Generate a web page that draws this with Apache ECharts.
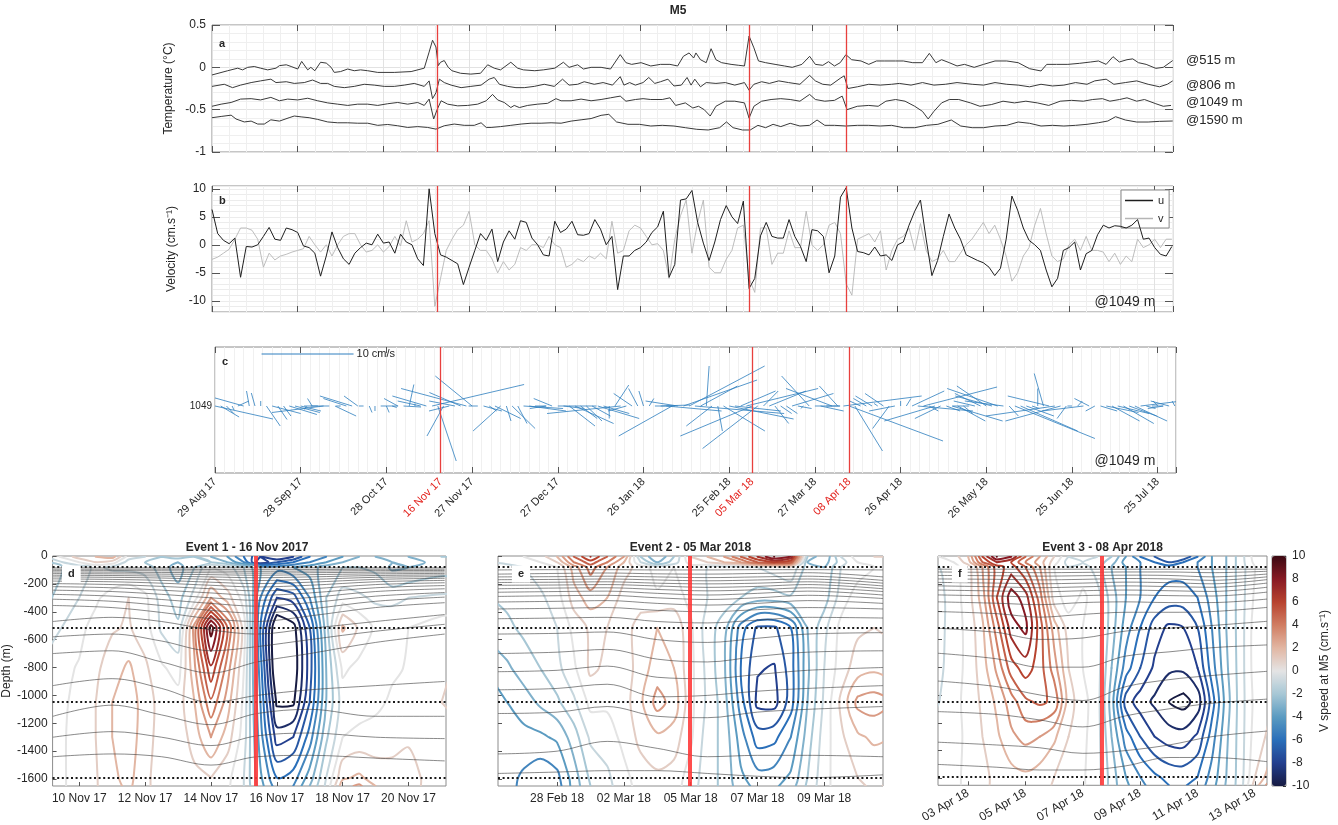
<!DOCTYPE html>
<html>
<head>
<meta charset="utf-8">
<title>M5</title>
<script src="https://cdn.jsdelivr.net/npm/echarts@6/dist/echarts.min.js"></script>
<style>
  html, body { margin: 0; padding: 0; background: #fff; }
  #chart { width: 1338px; height: 825px; }
</style>
</head>
<body>
<div id="chart"></div>
<script>
// ---- time axis of panels a-c: days since 29 Aug 2017 ----
var tickDays = [0, 30, 60, 90, 120, 150, 180, 210, 240, 270, 300, 330];
var tickLabels = ['29 Aug 17', '28 Sep 17', '28 Oct 17', '27 Nov 17', '27 Dec 17', '26 Jan 18',
  '25 Feb 18', '27 Mar 18', '26 Apr 18', '26 May 18', '25 Jun 18', '25 Jul 18'];
var eventDays = [79, 188, 222];
var eventLabels = ['16 Nov 17', '05 Mar 18', '08 Apr 18'];

// ---- panel a: temperature anomalies [day, degC] ----
var temp515 = [[0,-0.09],[5.5,-0.04],[9,-0.01],[10.7,-0.03],[12.5,0],[14.8,0.01],[17,-0.01],[19.5,-0.03],[22.4,-0.01],[23.6,0.02],[26,0.03],[27.7,0.01],[30,-0.02],[31.4,0.07],[33.5,-0.03],[34.6,0],[36,-0.04],[38,0.06],[40,0.05],[41.7,0],[42.8,-0.06],[45,-0.05],[47.5,-0.02],[49.8,-0.04],[52,-0.03],[54.5,-0.04],[58,-0.06],[63.8,-0.06],[69.7,-0.05],[74.3,-0.01],[76,0.18],[77.2,0.32],[78.4,0.24],[79.2,0.02],[80,0.06],[81.3,0.08],[82.7,0],[84,-0.04],[87,-0.07],[90.6,-0.08],[94,-0.07],[96.5,0.03],[98.8,-0.01],[101,-0.03],[104.6,0.06],[107,-0.01],[109,-0.03],[113,-0.04],[116,-0.03],[120,-0.01],[123,0.06],[125,0],[128,0.03],[130,-0.02],[132.7,0],[136.2,0],[139.5,-0.02],[142.9,0.15],[144.9,0.055],[146.9,0.035],[150.2,0.055],[153.6,0.016],[157,0.035],[160.3,0.035],[163,0.016],[165,0.13],[167,0.17],[168.6,0.11],[169.4,0.17],[171,0.09],[173,0.055],[174.7,0.22],[176.4,0.09],[178.4,0.055],[181.7,0.035],[184.4,0.024],[186.4,0.016],[188,0.37],[189.7,0.23],[191.3,0.075],[193.8,0.055],[197.1,0.035],[200.4,0.016],[203.1,0],[206.5,0.035],[209.2,0.13],[211.2,0.035],[213.8,0.024],[215.8,0.067],[217.9,0.016],[219.9,0.055],[221.9,0.15],[223.9,0.09],[227.2,0.075],[229.9,0.035],[232.6,0.075],[235.3,0.075],[239.3,0.075],[242,0.075],[245.3,0.055],[248.7,0.055],[251.1,0.165],[253.4,0.055],[255.4,0.09],[258.1,0.055],[260.8,0.016],[263.4,0.035],[266.8,0],[270.1,0.035],[274.1,0.075],[278.2,0.075],[282.2,0.055],[286.2,-0.016],[290.2,-0.043],[292.2,0.035],[295.6,0.035],[299.6,0.035],[303.6,0.047],[307.6,0.063],[310.3,0.075],[313,0.035],[315.4,0.126],[317.6,0.063],[320.3,0.09],[322.3,0.1],[324.3,0.055],[327,0.035],[330.4,-0.012],[333,0],[336.3,0.08]];
var temp806 = [[0,-0.225],[4.3,-0.2],[7.2,-0.24],[10,-0.21],[13.7,-0.18],[17,-0.16],[20.6,-0.14],[22.4,-0.18],[26,-0.17],[28.8,-0.19],[32.3,-0.18],[35.2,-0.15],[38,-0.19],[40.5,-0.19],[42.8,-0.225],[46.3,-0.24],[49.8,-0.225],[53.3,-0.2],[56.8,-0.21],[60.3,-0.225],[63.8,-0.225],[67.3,-0.21],[70.8,-0.19],[74.3,-0.225],[76,-0.16],[77.2,-0.37],[78.4,-0.3],[79.6,-0.14],[81.3,-0.18],[83.7,-0.21],[87.2,-0.24],[90.6,-0.225],[94.2,-0.21],[97,-0.14],[98.8,-0.12],[100.6,-0.2],[103.5,-0.225],[106.4,-0.24],[109.3,-0.24],[112.8,-0.225],[116.3,-0.2],[119.8,-0.225],[122.7,-0.14],[125,-0.21],[128,-0.2],[130.3,-0.17],[133.8,-0.2],[136.9,-0.18],[140.2,-0.21],[142.9,-0.11],[144.2,-0.21],[146.2,-0.18],[148.2,-0.21],[150.9,-0.18],[152.9,-0.12],[155,-0.19],[157,-0.17],[159.6,-0.14],[161.7,-0.22],[164.3,-0.21],[166.3,-0.12],[167.7,-0.21],[169,-0.14],[171,-0.23],[173,-0.18],[176.4,-0.19],[179.7,-0.18],[183,-0.21],[186.4,-0.18],[188,-0.27],[189.7,-0.2],[192.4,-0.17],[195.1,-0.19],[198.4,-0.16],[201.8,-0.18],[205.8,-0.2],[209.2,-0.095],[211.2,-0.16],[213.8,-0.2],[216.6,-0.21],[219.9,-0.13],[221.3,-0.1],[222.6,-0.25],[225.9,-0.23],[229.9,-0.2],[233.9,-0.21],[237.9,-0.2],[240.6,-0.19],[244.7,-0.21],[248.7,-0.18],[252.7,-0.21],[256.7,-0.2],[260.8,-0.18],[266.1,-0.2],[270.1,-0.21],[274.1,-0.18],[278.2,-0.2],[282.2,-0.21],[286.2,-0.23],[290.2,-0.2],[294.2,-0.22],[298.2,-0.21],[302.3,-0.18],[306.3,-0.2],[309,-0.16],[313,-0.14],[315.7,-0.2],[319.7,-0.18],[323.7,-0.16],[327.7,-0.2],[331.7,-0.23],[334.4,-0.2],[336.3,-0.16]];
var temp1049 = [[0,-0.46],[3.2,-0.435],[6.7,-0.415],[10,-0.375],[13.7,-0.37],[17,-0.385],[20.6,-0.355],[23.6,-0.395],[26.5,-0.375],[30,-0.385],[33.5,-0.365],[37,-0.395],[40.5,-0.42],[44,-0.435],[47.5,-0.45],[51,-0.435],[54.5,-0.435],[58,-0.45],[61.5,-0.43],[65,-0.415],[68.5,-0.435],[72,-0.415],[74.3,-0.45],[76,-0.375],[77.6,-0.61],[78.8,-0.5],[80.2,-0.395],[82.5,-0.435],[86,-0.455],[89.5,-0.45],[93,-0.435],[96,-0.395],[98.2,-0.32],[100,-0.385],[102.3,-0.415],[104.6,-0.475],[105.8,-0.45],[107.6,-0.475],[110.5,-0.45],[114,-0.435],[117.5,-0.425],[120.4,-0.37],[122.2,-0.395],[125.7,-0.395],[129.2,-0.375],[132.7,-0.395],[136.2,-0.38],[139.5,-0.36],[142.9,-0.34],[144.9,-0.4],[148.2,-0.38],[150.9,-0.37],[153.6,-0.38],[157.6,-0.38],[160.3,-0.36],[162.3,-0.45],[165.7,-0.42],[168.3,-0.48],[170.3,-0.46],[172.3,-0.5],[174.4,-0.575],[176.4,-0.46],[179.7,-0.4],[183,-0.4],[186.4,-0.42],[188,-0.6],[189.7,-0.46],[192.4,-0.4],[195.7,-0.38],[199.1,-0.37],[202.4,-0.38],[205.8,-0.4],[209.2,-0.32],[211.2,-0.38],[214.5,-0.4],[217.9,-0.39],[220.6,-0.34],[222.3,-0.5],[225.9,-0.46],[229.9,-0.45],[233.2,-0.46],[235.9,-0.4],[239.3,-0.38],[242.6,-0.4],[246,-0.46],[248.7,-0.52],[250.7,-0.61],[252.7,-0.52],[255.4,-0.42],[258.1,-0.38],[261.4,-0.38],[265.5,-0.42],[268.8,-0.46],[272.8,-0.44],[276.9,-0.4],[280.9,-0.42],[284.9,-0.4],[288.9,-0.42],[292.9,-0.45],[296.9,-0.4],[300.9,-0.39],[305,-0.4],[308.3,-0.38],[311.7,-0.37],[314.3,-0.4],[317.7,-0.38],[320.3,-0.36],[323.7,-0.4],[326.4,-0.38],[330.4,-0.43],[333,-0.46],[335.7,-0.45]];
var temp1590 = [[0,-0.595],[3.2,-0.58],[6.7,-0.565],[8.4,-0.61],[11.3,-0.645],[13.7,-0.635],[16,-0.67],[18.3,-0.67],[20.6,-0.62],[23.6,-0.635],[27,-0.595],[28.8,-0.575],[31.2,-0.585],[34,-0.595],[37,-0.615],[40.5,-0.645],[44,-0.655],[47.5,-0.655],[51,-0.66],[54.5,-0.66],[58,-0.685],[61.5,-0.675],[65,-0.69],[68.5,-0.71],[72,-0.7],[75.5,-0.71],[78.4,-0.73],[81.3,-0.69],[84.8,-0.67],[88.3,-0.685],[91.8,-0.685],[94.2,-0.655],[96,-0.71],[97.7,-0.71],[101,-0.7],[104.6,-0.685],[108.2,-0.67],[111.7,-0.66],[115.2,-0.66],[118.7,-0.655],[122.2,-0.66],[125.7,-0.635],[129.2,-0.62],[132.7,-0.605],[136.2,-0.567],[138.9,-0.555],[141.6,-0.645],[145.6,-0.673],[149.6,-0.673],[153.6,-0.693],[157.6,-0.685],[161.7,-0.693],[165.7,-0.713],[169.7,-0.732],[173.7,-0.74],[177.7,-0.713],[180.1,-0.645],[182.4,-0.713],[185.7,-0.74],[188.4,-0.74],[191.1,-0.685],[193.8,-0.713],[196.4,-0.673],[199.1,-0.7],[202.4,-0.661],[205.8,-0.693],[209.2,-0.685],[211.8,-0.622],[214.5,-0.685],[217.9,-0.685],[221.9,-0.693],[225.9,-0.685],[229.9,-0.685],[233.9,-0.693],[237.9,-0.685],[242,-0.713],[246,-0.713],[250.1,-0.685],[254.1,-0.673],[258.8,-0.622],[262.1,-0.693],[266.1,-0.713],[270.1,-0.713],[274.1,-0.693],[278.2,-0.685],[282.2,-0.646],[286.2,-0.661],[290.2,-0.693],[294.2,-0.685],[298.2,-0.693],[302.3,-0.685],[306.3,-0.673],[310.3,-0.654],[313.6,-0.634],[316.3,-0.583],[319.7,-0.622],[323.7,-0.646],[327.7,-0.646],[331.7,-0.638],[336.3,-0.634]];
var tempNames = ['@515 m', '@806 m', '@1049 m', '@1590 m'];

// ---- panels b & c: velocity at 1049 m, one value every 2 days from day 0 (cm/s) ----
var velStep = 2;
var uVel = [6.3,2,0.8,0.2,1.2,-5.8,-0.3,-0.4,0,1.5,
  3.1,1,0.8,3,2.7,2.2,-0.2,-0.5,-1.5,-5.6,
  -2,2.3,-0.5,-2.5,-3.5,-1.5,-0.5,0.3,0,1.9,
  0.3,0.5,-1.5,1.9,0.5,0,-2.5,-3.7,10,2,
  -1.8,-2.2,-2.8,-3.4,-7.1,-4,-1,2,0.8,2.8,
  -3,0.5,2.5,1,4.3,4,1.2,0,-1.8,-2,
  4.2,2.2,2.8,4.2,1.8,1.7,2,4.5,2.8,0,
  1.5,-8,-2,-2,-1,-0.5,0.5,2.2,3.2,6,
  -5.8,-3.5,8,8.2,9.7,4,0.3,-2.8,0.5,4.5,
  7,5,3.8,7.8,-7.8,-6,1.6,4,1.5,1.2,
  1.2,4.5,1.5,-0.3,-3,2.7,2.5,1.5,-5,-2,
  8.5,10.2,3,-1.2,-1.4,-1.8,-0.4,-2,-1.8,-2.8,
  0,0.5,3.5,6,8,1,-5.5,-2.8,1.5,5.5,
  3,1,-1.8,-2.3,-2.8,-3.2,-4,-5.5,-4.2,1,
  8.7,6.2,3,0.8,0,-1,-4.5,-7.5,-6,-1,
  -0.5,0.5,-4.5,-1.6,-1,1.8,3.5,3,3.4,3.3,
  3,3.5,4.5,1,1.2,-0.5,-1.7,-2,-0.3];
var vVel = [-2.6,-2.2,-1.5,-0.8,1,3,3,2.6,1,-4,
  -1.5,-2.7,-2,-1.7,-1.3,-1,-0.7,1.5,0,-1.3,
  0,-2,0,1.5,2,2,0,-1.3,-1,0,
  -1.3,-0.3,1.5,-0.2,4.3,0.5,1,2,4.3,-11,
  -6,-1,1,2.7,3.5,6,0,-1,-1,-2.5,
  -5,-3,-4.5,-3.5,-0.5,-1,0,0,-0.5,1.5,
  0,-0.5,-4,-3.5,-2.5,-3,-2,-2.5,-1.5,-2.5,
  4.2,-1.5,-1,2.5,3.5,3,1.5,0,0.2,-1,
  -6,1,5.2,8,-1.5,4,8,-4,-5,-5,
  -2.6,-1,3,3.5,-6,-8.5,3,3,-3.5,-1.5,
  -1.5,2.5,-0.5,-0.5,6,0,-1,0,3.5,4,
  2,-7,-9,1,1.5,2,0.5,2.5,-4.5,-1,
  1,1.5,3,-1,3.8,-1,-3,-2.5,-1,-3,
  -3,-1.5,0,1,2.5,4,2,3.5,1,-2,
  -6.5,-5,-2,-0.5,3.5,6.5,2,-2,-3,-2.5,
  0,1,-1,1.5,-1,-1,-1.3,-3,-1.5,-3.5,
  -2,-3,1,-0.5,0,1,-0.5,1,1];
var stickRef = { day: 16.3, level: 10.4, speed: 10 };

// ---- panels d-f: V speed profiles (cm/s), one profile per time, top to bottom ----
var depthRows = [-5, -45, -80, -300, -515, -806, -1049, -1300, -1590, -1650];
var instrDepths = [-80, -515, -1049, -1590];
var depthTicks = [0, -200, -400, -600, -800, -1000, -1200, -1400, -1600];
var vLevels = [-10,-9,-8,-7,-6,-5,-4,-3,-2,-1,0,1,2,3,4,5,6,7,8,9,10];

// Event 1, days from 10 Nov 2017
var timesD = [-1, 0, 0.5, 1, 1.5, 2, 2.5, 3, 3.5, 4, 4.5, 5, 5.5, 6, 6.5, 7, 7.5, 8, 8.5, 9, 9.5, 10, 11, 11.5];
var speedD = [
  [-1,-2,-2.5,-2.2,-1.6,-0.6,-0.4,-0.3,-0.3,-0.3],
  [1.5,0,-1.5,-1,-0.3,0.1,0.2,0.2,0.2,0.2],
  [2,1,-0.8,-0.2,0.4,0.8,1.0,1.0,0.9,0.9],
  [2.5,0.5,-1.2,0.5,0.9,1.5,2.0,2.0,1.8,1.7],
  [-0.5,-1.5,-1.3,1.0,1.1,2.2,2.6,2.5,2.3,2.2],
  [-1,-2,-1.5,0.3,0.5,1.2,1.5,1.5,1.3,1.3],
  [-2,-2.5,-2.5,-1.5,-1.2,0.2,0.6,0.5,0.4,0.4],
  [-1.5,-3,-3.5,-2.5,-1.8,-0.5,0.5,0.3,0.2,0.2],
  [-2,-2.5,-2,-0.5,3.5,2.8,2.0,1.5,0.7,0.6],
  [-3,-2,0,3,9.6,6.8,4.8,3.0,1.0,0.8],
  [-4,-3,-0.5,1.5,5,3.5,2.5,1.5,0.3,0.2],
  [-6,-5,-2,-0.5,0.5,0,-0.3,-0.5,-1.0,-1.0],
  [-8,-9,-4,-5,-6,-5.5,-5,-4.5,-3.8,-3.6],
  [-9,-7,-4.5,-8,-11.5,-11.5,-10.2,-8.5,-6,-5.5],
  [-8,-6,-4,-7.5,-10.5,-10.8,-10.2,-8,-5.5,-5],
  [-6,-5,-3.5,-5,-7,-7.5,-7,-5.5,-3.5,-3],
  [-5,-4,-2.5,-2,-2.5,-3,-3,-2.2,-1,-0.8],
  [-4,-3,-2,-0.5,2.2,0.2,-0.5,0,1.8,2.6],
  [-3,-2.5,-2,-0.8,0.8,-0.3,-0.5,0.3,2.2,3.2],
  [-3,-2.5,-2.2,-1.2,-0.2,-0.4,-0.3,0.5,1.5,2.0],
  [-4,-3,-3.2,-1.3,-0.2,-0.2,0.2,0.8,1.2,1.2],
  [-3,-3.5,-3,-1.0,0,0.1,0.3,0.9,1.3,1.3],
  [-2,-2.5,-2.5,-0.8,0.5,0.8,1.0,0.8,0.5,0.5],
  [-2,-2.5,-2.6,-0.8,0.6,1.1,1.2,0.8,0.5,0.5]
];
// Event 2, days from 28 Feb 2018
var timesE = [-2, -1.5, -1, -0.5, 0, 0.5, 1, 1.5, 2, 2.5, 3, 3.5, 4, 4.5, 5, 5.5, 6, 6.5, 7, 7.5, 8, 8.5, 9, 9.5, 10];
var speedE = [
  [-0.5,-1,-1.5,-2,-2.5,-3.8,-4.6,-4.5,-4.5,-4.5],
  [-0.3,-0.8,-1.3,-1.8,-2.2,-3.2,-4.0,-4.3,-4.6,-4.6],
  [0,-0.5,-1.0,-1.5,-1.8,-2.5,-3.5,-4.3,-5.2,-5.3],
  [0.5,0,-0.5,-1.2,-1.5,-2.0,-2.8,-4.2,-5.7,-5.8],
  [2,1,0,-0.5,-1.0,-1.3,-2.2,-3.8,-5.3,-5.5],
  [5,4,2.5,1.5,0.3,-0.2,-1.2,-2.5,-3.5,-3.6],
  [7,5.5,4.5,2.5,1.2,1.2,0.3,-0.8,-1.8,-2.0],
  [5,4,3,2,1.0,0.8,0.2,-0.5,-1.2,-1.3],
  [3,2,1.5,0.5,0.5,0.4,0.5,0.3,-0.3,-0.4],
  [-2,-1,0.5,0.5,1.5,1.5,1.8,1.3,0.5,0.4],
  [-4,-3,-0.5,0.2,2.0,2.5,3.4,1.8,0.8,0.6],
  [-2,-1.5,0,0.5,1.8,2.0,2.6,1.5,0.6,0.5],
  [1,0.5,-0.5,-0.3,0.2,0.3,0.3,0.2,-0.5,-0.6],
  [2,1,-1,-1.0,-1.5,-1.3,-1.2,-1.5,-1.5,-1.5],
  [3,2,-1.5,-1.5,-2.5,-2.8,-2.5,-2.3,-2.3,-2.3],
  [5,3,-1.5,-2.0,-5.5,-6,-5.5,-4.5,-3.8,-3.6],
  [7,5,-1.0,-2.5,-7.2,-7.9,-8.3,-6.5,-4.6,-4.3],
  [9,6,-0.5,-2.5,-7.2,-8.1,-8.4,-6.3,-4.5,-4.2],
  [8,5,0,-2.2,-6,-6.5,-6.5,-5,-3.8,-3.5],
  [-2,-3,-2.5,-2.5,-3.0,-3.2,-3.0,-2.5,-2,-1.8],
  [-4,-3.5,-3,-2.5,-1.3,-1.0,-0.8,-0.5,-0.3,-0.3],
  [-1,-1.5,-1,-0.5,0.3,0.5,1.2,0.8,0.5,0.5],
  [0.5,0,-0.5,0.5,0.8,1.5,3.3,1.8,1.0,0.9],
  [1,0.5,0,0.5,1.0,1.8,3.5,2.2,1.2,1.1],
  [1,0.5,0,0.5,0.8,1.5,3.0,2.0,1.0,0.9]
];
// Event 3, days from 03 Apr 2018
var timesF = [-1.5, -1, -0.5, 0, 0.5, 1, 1.5, 2, 2.5, 3, 3.5, 4, 4.5, 5, 5.5, 6, 6.5, 7, 7.5, 8, 8.5, 9, 9.5, 10, 10.5];
var speedF = [
  [0,-0.5,-1,-1.5,-1.5,-1.5,-1.2,-1,-0.8,-0.8],
  [0,-0.5,-1,-1.3,-1.3,-1.2,-1.0,-0.8,-0.6,-0.6],
  [0.5,0,-0.3,-0.5,-0.5,-0.5,-0.3,-0.3,-0.2,-0.2],
  [2,1.5,0.5,0.5,0.3,0.3,0.3,0.2,0.2,0.2],
  [6,5,3,2.5,1.8,1.5,1.2,1.0,0.8,0.8],
  [9,7,5.5,6.0,4.5,3.2,2.2,1.8,1.2,1.2],
  [8,6,6.5,8.6,7.5,5.5,3.5,2.8,1.6,1.5],
  [5,4,5,7.5,8.3,6.5,4.8,3.3,1.8,1.7],
  [3,2.5,3,4.5,5.5,5.5,5.2,3.0,1.5,1.4],
  [1,0.5,0,0.5,2.5,3.5,4.8,2.2,1.0,0.9],
  [-1,-1.5,-1,-0.5,0.5,1.0,1.5,1.0,0.5,0.5],
  [-0.5,-1,-0.5,0.2,0,0,0.3,0.2,0.1,0.1],
  [-1,-1.5,-1.5,-0.5,-0.5,-0.5,-0.5,-0.5,-0.5,-0.5],
  [-2,-2.5,-3,-2.5,-2.5,-3,-3.5,-3.0,-2.5,-2.5],
  [-4,-4.5,-4,-4,-4.5,-5.5,-7.5,-5.5,-4.0,-3.8],
  [-6,-5,-5,-5,-6,-7,-8.5,-7,-5,-4.7],
  [-7,-6,-5.5,-6,-7.5,-8.2,-9.2,-8.0,-5.8,-5.5],
  [-8,-7,-5.5,-6.5,-8.2,-8.8,-10.0,-8.5,-6.3,-6.0],
  [-8,-6,-5.5,-6.5,-8.0,-8.8,-10.4,-8.6,-6.4,-6.1],
  [-6,-5,-5,-6,-7.0,-8.0,-9.6,-7.8,-6.0,-5.7],
  [-4,-4,-4,-4.5,-5.0,-5.5,-6.5,-5.5,-4.6,-4.4],
  [-3,-3,-3,-3,-3,-3.2,-3.5,-3.2,-3,-2.9],
  [-1.5,-1.5,-1.5,-1.5,-1.5,-1.5,-1.5,-1.5,-1.5,-1.5],
  [0.5,0.3,0,0.2,0.5,0.5,0.3,0.5,1.0,1.5],
  [1,0.8,0.5,0.8,1,1,0.8,1.2,2.5,3.5]
];

// ---- isotherm depths (m) at a few times per event ----
var isoTimesD = [-0.8, 1, 2.5, 4, 5.4, 7, 9, 11.1];
var isoD = [
  [-85,-85,-85,-85,-85,-85,-85,-85],
  [-95,-95,-95,-97,-98,-97,-95,-95],
  [-105,-105,-106,-108,-110,-108,-105,-104],
  [-115,-116,-118,-120,-123,-120,-116,-114],
  [-126,-128,-130,-134,-138,-134,-128,-125],
  [-138,-140,-144,-150,-156,-150,-140,-136],
  [-150,-153,-158,-168,-176,-168,-153,-148],
  [-164,-168,-175,-188,-198,-188,-168,-160],
  [-180,-185,-195,-210,-222,-210,-185,-175],
  [-198,-205,-218,-235,-250,-236,-205,-192],
  [-220,-228,-245,-265,-282,-265,-228,-212],
  [-245,-255,-275,-300,-318,-298,-255,-235],
  [-275,-288,-312,-340,-360,-335,-288,-262],
  [-310,-325,-355,-390,-410,-380,-325,-295],
  [-355,-370,-405,-450,-470,-430,-370,-335],
  [-470,-440,-470,-530,-560,-520,-470,-420],
  [-580,-560,-610,-680,-650,-600,-540,-490],
  [-700,-680,-760,-840,-760,-700,-620,-560],
  [-930,-880,-950,-1050,-1000,-960,-930,-900],
  [-1150,-1070,-1140,-1210,-1130,-1100,-1150,-1150],
  [-1300,-1260,-1300,-1360,-1290,-1270,-1300,-1310],
  [-1440,-1420,-1440,-1500,-1440,-1430,-1450,-1470]
];
var isoTimesE = [-1.77, 0, 1.5, 3, 4.5, 6, 7.5, 9.76];
var isoE = [
  [-100,-98,-98,-100,-100,-98,-98,-100],
  [-130,-125,-122,-128,-130,-125,-120,-150],
  [-150,-148,-145,-150,-155,-150,-145,-175],
  [-170,-168,-165,-172,-178,-172,-165,-195],
  [-190,-188,-185,-195,-200,-195,-185,-215],
  [-210,-208,-205,-215,-225,-218,-205,-235],
  [-235,-230,-228,-240,-250,-242,-228,-255],
  [-260,-255,-252,-268,-280,-268,-252,-280],
  [-290,-285,-282,-300,-312,-300,-282,-305],
  [-330,-325,-320,-340,-352,-340,-320,-340],
  [-380,-375,-370,-390,-400,-385,-370,-380],
  [-450,-445,-440,-470,-480,-460,-440,-445],
  [-560,-555,-545,-600,-620,-590,-560,-550],
  [-700,-690,-670,-740,-760,-720,-690,-680],
  [-830,-820,-790,-870,-880,-850,-820,-800],
  [-960,-950,-920,-1010,-1000,-970,-950,-930],
  [-1130,-1120,-1080,-1150,-1160,-1120,-1100,-1080],
  [-1420,-1400,-1330,-1380,-1440,-1430,-1430,-1440],
  [-1560,-1550,-1540,-1540,-1560,-1580,-1590,-1570]
];
var isoTimesF = [-1.05, 1, 2.5, 4, 5.5, 7, 8.5, 10.42];
var isoF = [
  [-95,-95,-95,-95,-95,-95,-95,-95],
  [-115,-118,-120,-118,-115,-115,-120,-110],
  [-140,-142,-145,-142,-138,-140,-150,-130],
  [-165,-168,-172,-168,-162,-165,-175,-150],
  [-190,-195,-200,-195,-188,-192,-200,-170],
  [-215,-222,-228,-222,-215,-220,-225,-195],
  [-245,-252,-258,-250,-245,-250,-255,-225],
  [-280,-288,-295,-285,-280,-285,-288,-260],
  [-330,-340,-350,-335,-330,-335,-335,-310],
  [-400,-415,-440,-420,-405,-405,-400,-370],
  [-520,-550,-600,-590,-540,-520,-500,-470],
  [-700,-740,-800,-800,-720,-690,-660,-640],
  [-900,-940,-1000,-1040,-940,-890,-860,-830],
  [-1120,-1140,-1180,-1230,-1150,-1100,-1060,-1030],
  [-1340,-1360,-1380,-1420,-1400,-1360,-1300,-1260],
  [-1500,-1520,-1540,-1540,-1510,-1450,-1450,-1480]
];

// ---- event panel axes ----
var eventPanels = [
  { title: 'Event 1 - 16 Nov 2017', tag: 'd', min: -0.81, max: 11.14, red: 5.37,
    ticks: [0, 2, 4, 6, 8, 10], labels: ['10 Nov 17','12 Nov 17','14 Nov 17','16 Nov 17','18 Nov 17','20 Nov 17'],
    times: timesD, speed: speedD, isoTimes: isoTimesD, iso: isoD, rotate: 0 },
  { title: 'Event 2 - 05 Mar 2018', tag: 'e', min: -1.77, max: 9.76, red: 3.98,
    ticks: [0, 2, 4, 6, 8], labels: ['28 Feb 18','02 Mar 18','05 Mar 18','07 Mar 18','09 Mar 18'],
    times: timesE, speed: speedE, isoTimes: isoTimesE, iso: isoE, rotate: 0 },
  { title: 'Event 3 - 08 Apr 2018', tag: 'f', min: -1.05, max: 10.42, red: 4.67,
    ticks: [0, 2, 4, 6, 8, 10], labels: ['03 Apr 18','05 Apr 18','07 Apr 18','09 Apr 18','11 Apr 18','13 Apr 18'],
    times: timesF, speed: speedF, isoTimes: isoTimesF, iso: isoF, rotate: 30 }
];

var speedColors = ['#171b42', '#233f8e', '#2a6fb9', '#5b9bc1', '#a7c7d5', '#e4e4e4',
  '#e2b6a3', '#d07d62', '#b7432f', '#871a24', '#3b0912'];

var FONT = '"Liberation Sans", Arial, Helvetica, sans-serif';
var TXT = '#262626';
var BOX = '#8c8c8c';
var SPAN_DAYS = 336.4;
var DAYS_PER_CM = 3.22;

// marching squares on a rectilinear grid; cols[i][j] = value at xs[i], ys[j]
function contourSegments(xs, ys, cols, L) {
  var segs = [];
  for (var i = 0; i < xs.length - 1; i++) {
    for (var j = 0; j < ys.length - 1; j++) {
      var cx = [xs[i], xs[i + 1], xs[i + 1], xs[i]];
      var cy = [ys[j], ys[j], ys[j + 1], ys[j + 1]];
      var cv = [cols[i][j], cols[i + 1][j], cols[i + 1][j + 1], cols[i][j + 1]];
      var pts = [];
      for (var k = 0; k < 4; k++) {
        var k2 = (k + 1) % 4;
        var a = cv[k] - L, b = cv[k2] - L;
        if ((a >= 0) !== (b >= 0)) {
          var f = a / (a - b);
          pts.push([cx[k] + f * (cx[k2] - cx[k]), cy[k] + f * (cy[k2] - cy[k])]);
        }
      }
      if (pts.length >= 2) segs.push([pts[0], pts[1]]);
      if (pts.length === 4) segs.push([pts[2], pts[3]]);
    }
  }
  return segs;
}

// join the cell segments of one level into polylines
function chainSegments(segs) {
  var key = function (p) { return p[0].toFixed(5) + ',' + p[1].toFixed(3); };
  var ends = {};
  segs.forEach(function (s, i) {
    [key(s[0]), key(s[1])].forEach(function (k) { (ends[k] = ends[k] || []).push(i); });
  });
  var used = segs.map(function () { return false; });
  var lines = [];
  function extend(pts) {
    for (;;) {
      var last = pts[pts.length - 1], cand = ends[key(last)] || [], next = -1;
      for (var c = 0; c < cand.length; c++) { if (!used[cand[c]]) { next = cand[c]; break; } }
      if (next < 0) return;
      used[next] = true;
      var s = segs[next];
      pts.push(key(s[0]) === key(last) ? s[1] : s[0]);
    }
  }
  segs.forEach(function (s, i) {
    if (used[i]) return;
    used[i] = true;
    var pts = [s[0], s[1]];
    extend(pts);
    pts.reverse();
    extend(pts);
    lines.push(pts);
  });
  return lines;
}

function contourLines(xs, ys, cols, levels) {
  var out = [];
  levels.forEach(function (L) {
    chainSegments(contourSegments(xs, ys, cols, L)).forEach(function (pts) {
      out.push({ level: L, points: pts });
    });
  });
  return out;
}

function pickLabel(values, labels) {
  return function (v) {
    for (var i = 0; i < values.length; i++) {
      if (Math.abs(values[i] - v) < 1e-6) return labels[i];
    }
    return '';
  };
}

var tickStyle = { show: true, inside: true, length: 6, lineStyle: { color: '#555', width: 1 } };

function timeAxis(gridIndex, position, extra) {
  var ax = {
    type: 'value', gridIndex: gridIndex, position: position,
    min: 0, max: SPAN_DAYS, interval: 30,
    axisLine: { show: false, onZero: false },
    axisTick: tickStyle,
    axisLabel: { show: false },
    splitLine: { show: false }
  };
  for (var k in extra) ax[k] = extra[k];
  return ax;
}

var chart = echarts.init(document.getElementById('chart'));

var grids = [
  { left: 212, top: 25, width: 961, height: 127 },
  { left: 212, top: 186, width: 961, height: 126 },
  { left: 215, top: 347, width: 961, height: 126 },
  { left: 48, top: 556, width: 398, height: 230 },
  { left: 498, top: 556, width: 385, height: 230 },
  { left: 938, top: 556, width: 329, height: 230 },
  { left: 1272, top: 556, width: 14, height: 230 }
].map(function (g) {
  g.show = true; g.borderColor = BOX; g.borderWidth = 1; g.containLabel = false;
  return g;
});

var vGrid = { show: true, lineStyle: { color: '#e2e2e2', width: 1 } };
var vMinor = { show: true, lineStyle: { color: '#efefef', width: 1 } };

var xAxes = [
  timeAxis(0, 'bottom', { splitLine: vGrid, minorTick: { show: false, splitNumber: 5 }, minorSplitLine: vMinor }),
  timeAxis(0, 'top'),
  timeAxis(1, 'bottom', { splitLine: vGrid, minorTick: { show: false, splitNumber: 5 }, minorSplitLine: vMinor }),
  timeAxis(1, 'top'),
  timeAxis(2, 'bottom', {
    splitLine: { show: true, lineStyle: { color: '#ececec' } },
    minorTick: { show: false, splitNumber: 9 }, minorSplitLine: { show: true, lineStyle: { color: '#f0f0f0' } },
    axisLabel: { show: true, rotate: 45, fontSize: 11, color: TXT, margin: 7, fontFamily: FONT,
      formatter: pickLabel(tickDays, tickLabels) }
  }),
  timeAxis(2, 'top'),
  timeAxis(2, 'bottom', {
    axisTick: { show: false },
    axisLabel: { show: true, rotate: 45, fontSize: 11, color: '#e3211c', margin: 7, fontFamily: FONT,
      customValues: eventDays, formatter: pickLabel(eventDays, eventLabels) }
  })
];
eventPanels.forEach(function (p, i) {
  xAxes.push({
    type: 'value', gridIndex: 3 + i, position: 'bottom', min: p.min, max: p.max,
    axisLine: { show: false, onZero: false },
    axisTick: { show: true, inside: true, length: 4, customValues: p.ticks, lineStyle: { color: '#555' } },
    axisLabel: { show: true, customValues: p.ticks, formatter: pickLabel(p.ticks, p.labels),
      rotate: p.rotate, fontSize: 12, color: TXT, margin: 7, fontFamily: FONT },
    splitLine: { show: false }
  });
});
xAxes.push({ type: 'value', gridIndex: 6, min: 0, max: 1, show: false });

var yAxes = [
  { type: 'value', gridIndex: 0, position: 'left', min: -1, max: 0.5, interval: 0.5,
    axisLine: { show: false, onZero: false },
    axisTick: { show: true, inside: true, length: 8, lineStyle: { color: '#555' } },
    axisLabel: { fontSize: 12, color: TXT, margin: 6, fontFamily: FONT },
    splitLine: { show: true, lineStyle: { color: '#e2e2e2' } },
    minorTick: { show: false, splitNumber: 5 }, minorSplitLine: vMinor,
    name: 'Temperature (°C)', nameLocation: 'middle', nameGap: 27, nameRotate: 90,
    nameTextStyle: { fontSize: 12, color: TXT, fontFamily: FONT } },
  { type: 'value', gridIndex: 0, position: 'right', min: -1, max: 0.5, interval: 0.5,
    axisLine: { show: false, onZero: false }, axisLabel: { show: false }, splitLine: { show: false },
    axisTick: { show: true, inside: true, length: 8, lineStyle: { color: '#555' } } },
  { type: 'value', gridIndex: 1, position: 'left', min: -12, max: 10.5, interval: 1,
    axisLine: { show: false, onZero: false }, axisLabel: { show: false }, axisTick: { show: false },
    splitLine: { show: true, lineStyle: { color: '#ececec' } } },
  { type: 'value', gridIndex: 1, position: 'left', min: -12, max: 10.5,
    axisLine: { show: false, onZero: false },
    axisTick: { show: true, inside: true, length: 8, customValues: [-10, -5, 0, 5, 10], lineStyle: { color: '#555' } },
    axisLabel: { customValues: [-10, -5, 0, 5, 10], fontSize: 12, color: TXT, margin: 6, fontFamily: FONT },
    splitLine: { show: false },
    name: 'Velocity (cm.s⁻¹)', nameLocation: 'middle', nameGap: 24, nameRotate: 90,
    nameTextStyle: { fontSize: 12, color: TXT, fontFamily: FONT } },
  { type: 'value', gridIndex: 1, position: 'right', min: -12, max: 10.5,
    axisLine: { show: false, onZero: false }, axisLabel: { show: false }, splitLine: { show: false },
    axisTick: { show: true, inside: true, length: 8, customValues: [-10, -5, 0, 5, 10], lineStyle: { color: '#555' } } },
  { type: 'value', gridIndex: 2, position: 'left', min: -13.4, max: 11.8,
    axisLine: { show: false, onZero: false },
    axisTick: { show: false },
    axisLabel: { customValues: [0], formatter: function () { return '1049'; }, fontSize: 10, color: TXT, margin: 3, fontFamily: FONT },
    splitLine: { show: false } }
];
eventPanels.forEach(function (p, i) {
  yAxes.push({
    type: 'value', gridIndex: 3 + i, position: 'left', min: -1650, max: 0,
    axisLine: { show: false, onZero: false },
    axisTick: { show: true, inside: true, length: 4, customValues: depthTicks, lineStyle: { color: '#555' } },
    axisLabel: { show: i === 0, customValues: depthTicks, fontSize: 12, color: TXT, margin: 5, fontFamily: FONT,
      formatter: function (v) { return String(v); } },
    splitLine: { show: false },
    name: i === 0 ? 'Depth (m)' : '', nameLocation: 'middle', nameGap: 33, nameRotate: 90,
    nameTextStyle: { fontSize: 12, color: TXT, fontFamily: FONT }
  });
});
yAxes.push({
  type: 'value', gridIndex: 6, position: 'right', min: -10, max: 10, interval: 2,
  axisLine: { show: false, onZero: false },
  axisTick: { show: true, inside: true, length: 3, lineStyle: { color: '#333' } },
  axisLabel: { fontSize: 12, color: TXT, margin: 6, fontFamily: FONT },
  splitLine: { show: false },
  name: 'V speed at M5 (cm.s⁻¹)', nameLocation: 'middle', nameGap: 33, nameRotate: 90,
  nameTextStyle: { fontSize: 12, color: TXT, fontFamily: FONT }
});

var series = [];
var redLines = {
  silent: true, symbol: ['none', 'none'], label: { show: false }, animation: false,
  lineStyle: { color: '#e8403d', width: 1.3, type: 'solid' },
  data: eventDays.map(function (d) { return { xAxis: d }; })
};

// panel a
[temp515, temp806, temp1049, temp1590].forEach(function (arr, i) {
  series.push({
    name: tempNames[i], type: 'line', xAxisIndex: 0, yAxisIndex: 0, data: arr,
    symbol: 'none', lineStyle: { color: '#3a3a3a', width: 1 }, silent: true, z: 3,
    markLine: i === 0 ? redLines : undefined
  });
});
// panel b
var velDays = uVel.map(function (u, i) { return i * velStep; });
series.push({
  name: 'v', type: 'line', xAxisIndex: 2, yAxisIndex: 3, symbol: 'none',
  data: velDays.map(function (d, i) { return [d, vVel[i]]; }),
  itemStyle: { color: '#b5b5b5' },
  lineStyle: { color: '#b5b5b5', width: 0.9 }, silent: true, z: 3, markLine: redLines
});
series.push({
  name: 'u', type: 'line', xAxisIndex: 2, yAxisIndex: 3, symbol: 'none',
  data: velDays.map(function (d, i) { return [d, uVel[i]]; }),
  itemStyle: { color: '#1e1e1e' },
  lineStyle: { color: '#1e1e1e', width: 1 }, silent: true, z: 4
});
// panel c: stick plot
series.push({
  name: 'sticks', type: 'custom', xAxisIndex: 4, yAxisIndex: 5, clip: true, silent: true,
  data: velDays.map(function (d, i) { return [d, uVel[i], vVel[i]]; }),
  encode: { x: 0, y: 2 },
  renderItem: function (params, api) {
    var t = api.value(0), u = api.value(1), v = api.value(2);
    var p0 = api.coord([t, 0]);
    var p1 = api.coord([t + u * DAYS_PER_CM, v]);
    return { type: 'line', shape: { x1: p0[0], y1: p0[1], x2: p1[0], y2: p1[1] },
      style: { stroke: '#2f7fbf', lineWidth: 0.9, opacity: 0.9 } };
  },
  markLine: redLines, z: 3
});
series.push({
  name: 'ref', type: 'line', xAxisIndex: 4, yAxisIndex: 5, symbol: 'none', silent: true,
  data: [[stickRef.day, stickRef.level], [stickRef.day + stickRef.speed * DAYS_PER_CM, stickRef.level]],
  lineStyle: { color: '#2f7fbf', width: 1 },
  endLabel: { show: true, formatter: stickRef.speed + ' cm/s', fontSize: 11, color: TXT, distance: 3, fontFamily: FONT }
});

// panels d-f
var contourIdx = [];
eventPanels.forEach(function (p, i) {
  var xi = 7 + i, yi = 6 + i;
  var lines = contourLines(p.times, depthRows, p.speed, vLevels);
  contourIdx.push(series.length);
  series.push({
    name: 'speed ' + p.tag, type: 'custom', xAxisIndex: xi, yAxisIndex: yi, clip: true, silent: true,
    progressive: 0, z: 2,
    data: lines.map(function (ln, k) { return [ln.level, k]; }),
    dimensions: ['level', 'line'],
    encode: { x: -1, y: -1 },
    renderItem: function (params, api) {
      var ln = lines[api.value(1)];
      var pts = ln.points.map(function (q) { return api.coord(q); });
      return { type: 'polyline', shape: { points: pts, smooth: 0.3 },
        style: { stroke: api.visual('color'), fill: 'none', lineWidth: 2, lineCap: 'round', lineJoin: 'round' } };
    }
  });
  p.iso.forEach(function (line, k) {
    var s = {
      name: 'iso ' + p.tag + k, type: 'line', xAxisIndex: xi, yAxisIndex: yi, symbol: 'none',
      smooth: 0.35, silent: true, z: 4,
      data: p.isoTimes.map(function (t, m) { return [t, line[m]]; }),
      lineStyle: { color: '#3a3a3a', width: 0.6 }
    };
    if (k === 0) {
      s.markLine = {
        silent: true, symbol: ['none', 'none'], label: { show: false }, animation: false,
        data: instrDepths.map(function (d) {
          return { yAxis: d, lineStyle: { color: '#1a1a1a', width: 1.8, type: [2, 2.6] } };
        }).concat([{ xAxis: p.red, lineStyle: { color: '#ff3535', width: 4, type: 'solid', opacity: 0.88 } }])
      };
    }
    series.push(s);
  });
});

var txt = function (x, y, text, font, align, extra) {
  var st = { text: text, fill: TXT, font: font, textAlign: align || 'left', textVerticalAlign: 'middle' };
  for (var k in extra) st[k] = extra[k];
  return { type: 'text', x: x, y: y, silent: true, z: 100, style: st };
};
var graphics = [
  txt(678, 11, 'M5', 'bold 12px ' + FONT, 'center'),
  txt(219, 44, 'a', 'bold 11px ' + FONT),
  txt(219, 201, 'b', 'bold 11px ' + FONT),
  txt(222, 362, 'c', 'bold 11px ' + FONT),
  txt(1186, 60, tempNames[0], '13px ' + FONT),
  txt(1186, 85, tempNames[1], '13px ' + FONT),
  txt(1186, 102, tempNames[2], '13px ' + FONT),
  txt(1186, 120, tempNames[3], '13px ' + FONT),
  txt(1125, 302, '@1049 m', '14px ' + FONT, 'center'),
  txt(1125, 461, '@1049 m', '14px ' + FONT, 'center')
];
eventPanels.forEach(function (p, i) {
  var g = grids[3 + i];
  graphics.push(txt(g.left + g.width / 2, 548, p.title, 'bold 12px ' + FONT, 'center'));
  graphics.push(txt(g.left + 14, 574, p.tag, 'bold 11px ' + FONT, 'left',
    { backgroundColor: '#fff', padding: [3, 6, 3, 6] }));
});

chart.setOption({
  animation: false,
  backgroundColor: '#fff',
  textStyle: { fontFamily: FONT },
  grid: grids,
  xAxis: xAxes,
  yAxis: yAxes,
  legend: {
    data: ['u', 'v'], orient: 'vertical', left: 1121, top: 190, selectedMode: false,
    icon: 'rect', itemWidth: 28, itemHeight: 1.5, itemGap: 7, padding: [5, 5, 4, 4],
    borderColor: '#888', borderWidth: 1, backgroundColor: '#fff', borderRadius: 0,
    textStyle: { fontSize: 11, color: TXT, fontFamily: FONT }
  },
  visualMap: {
    type: 'continuous', min: -10, max: 10, dimension: 0, seriesIndex: contourIdx,
    inRange: { color: speedColors }, calculable: false, hoverLink: false,
    left: 1272, top: 556, itemWidth: 14, itemHeight: 230, padding: 0, text: null
  },
  graphic: graphics,
  series: series
});
</script>
</body>
</html>
